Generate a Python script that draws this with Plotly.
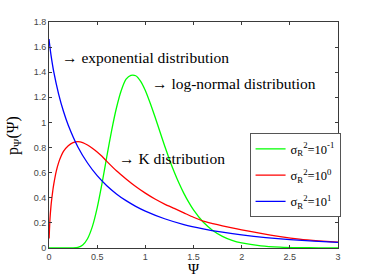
import plotly.graph_objects as go

# ---- data ----
x_green = [0, 0.2, 0.25, 0.3, 0.35, 0.4, 0.45, 0.5, 0.55, 0.6, 0.65, 0.7, 0.75, 0.8,
           0.85, 0.9, 0.95, 1.0, 1.05, 1.1, 1.15, 1.2, 1.25, 1.3, 1.35, 1.4, 1.45, 1.5,
           1.6, 1.7, 1.8, 1.9, 2.0, 2.2, 2.4, 2.6, 2.8, 3.0]
y_green = [0, 0.0, 0.0007, 0.005, 0.024, 0.074, 0.170, 0.319, 0.512, 0.727, 0.935, 1.115,
           1.255, 1.345, 1.375, 1.372, 1.330, 1.255, 1.155, 1.045, 0.930, 0.815, 0.705,
           0.605, 0.515, 0.435, 0.365, 0.303, 0.207, 0.140, 0.093, 0.061, 0.040, 0.017,
           0.0072, 0.0031, 0.0013, 0.0006]

x_red = [0.001, 0.01, 0.02, 0.03, 0.04, 0.05, 0.075, 0.1, 0.125, 0.15, 0.2, 0.25, 0.3,
         0.35, 0.4, 0.45, 0.5, 0.55, 0.6, 0.7, 0.8, 0.9, 1.0, 1.1, 1.2, 1.3, 1.4, 1.5,
         1.6, 1.7, 1.8, 1.9, 2.0, 2.2, 2.4, 2.6, 2.8, 3.0]
y_red = [0.075, 0.23, 0.33, 0.40, 0.46, 0.51, 0.61, 0.68, 0.73, 0.77, 0.815, 0.84, 0.848,
         0.84, 0.82, 0.795, 0.765, 0.73, 0.69, 0.615, 0.55, 0.49, 0.437, 0.39, 0.35,
         0.315, 0.28, 0.245, 0.215, 0.195, 0.177, 0.16, 0.145, 0.116, 0.091, 0.071,
         0.057, 0.046]

x_blue = [0, 0.005, 0.01, 0.02, 0.05, 0.1, 0.15, 0.2, 0.3, 0.4, 0.5, 0.6, 0.7, 0.8, 0.9,
          1.0, 1.2, 1.4, 1.6, 1.8, 2.0, 2.25, 2.5, 2.75, 3.0]
y_blue = [1.665, 1.63, 1.60, 1.54, 1.40, 1.226, 1.089, 0.978, 0.805, 0.677, 0.576, 0.496,
          0.431, 0.377, 0.332, 0.294, 0.233, 0.187, 0.153, 0.126, 0.104, 0.083, 0.067,
          0.055, 0.045]

legend_names = ["σ<sub>R</sub><sup>2</sup>=10<sup>-1</sup>",
                "σ<sub>R</sub><sup>2</sup>=10<sup>0</sup>",
                "σ<sub>R</sub><sup>2</sup>=10<sup>1</sup>"]
colors = ["#00ff00", "#ff0000", "#0000ff"]

notes = ["→ exponential distribution", "→ log-normal distribution", "→ K distribution"]
note_x = [0.115, 1.052, 0.705]
note_y = [1.52, 1.313, 0.715]

SERIF = "Liberation Serif, Times New Roman, serif"
SANS = "Liberation Sans, Arial, sans-serif"
AX = "#3a3a3a"

fig = go.Figure()
for i, (xs, ys, name, c) in enumerate(zip([x_green, x_red, x_blue], [y_green, y_red, y_blue],
                                          legend_names, colors)):
    fig.add_trace(go.Scatter(x=xs, y=ys, mode="lines", name=name, legendgroup=f"g{i}",
                             line=dict(color=c, width=1.3, shape="spline", smoothing=0.6)))

for t, xx, yy in zip(notes, note_x, note_y):
    fig.add_annotation(text=t, x=xx, y=yy, xref="x", yref="y", showarrow=False,
                       xanchor="left", yanchor="middle",
                       font=dict(family=SERIF, size=15.5, color="black"))

# axis titles
fig.add_annotation(text="p<sub>Ψ</sub>(Ψ)", x=-0.125, y=0.5, xref="paper", yref="paper",
                   showarrow=False, textangle=-90, xanchor="center", yanchor="middle",
                   font=dict(family=SERIF, size=16, color="black"))
fig.add_annotation(text="Ψ", x=0.5, y=-0.092, xref="paper", yref="paper",
                   showarrow=False, xanchor="center", yanchor="middle",
                   font=dict(family=SERIF, size=15, color="black"))

axis_common = dict(showline=True, linecolor=AX, linewidth=1, mirror="ticks",
                   ticks="inside", ticklen=3, tickcolor=AX, tickwidth=1,
                   showgrid=False, zeroline=False,
                   tickfont=dict(family=SANS, size=9, color="#444444"))

fig.update_xaxes(range=[0, 3], dtick=0.5, tick0=0, **axis_common)
fig.update_yaxes(range=[0, 1.8], dtick=0.2, tick0=0, **axis_common)

fig.update_layout(
    width=374, height=280,
    margin=dict(l=49, r=36, t=22, b=32, autoexpand=False),
    plot_bgcolor="white", paper_bgcolor="white",
    showlegend=True,
    legend=dict(x=0.694, y=0.508, xanchor="left", yanchor="top",
                bgcolor="white", bordercolor="#555555", borderwidth=1,
                font=dict(family=SERIF, size=12.5, color="black"),
                tracegroupgap=7, itemwidth=30),
)

fig.write_html("out.html", config={"displayModeBar": False},
               post_script="document.body.style.margin='0px';")
